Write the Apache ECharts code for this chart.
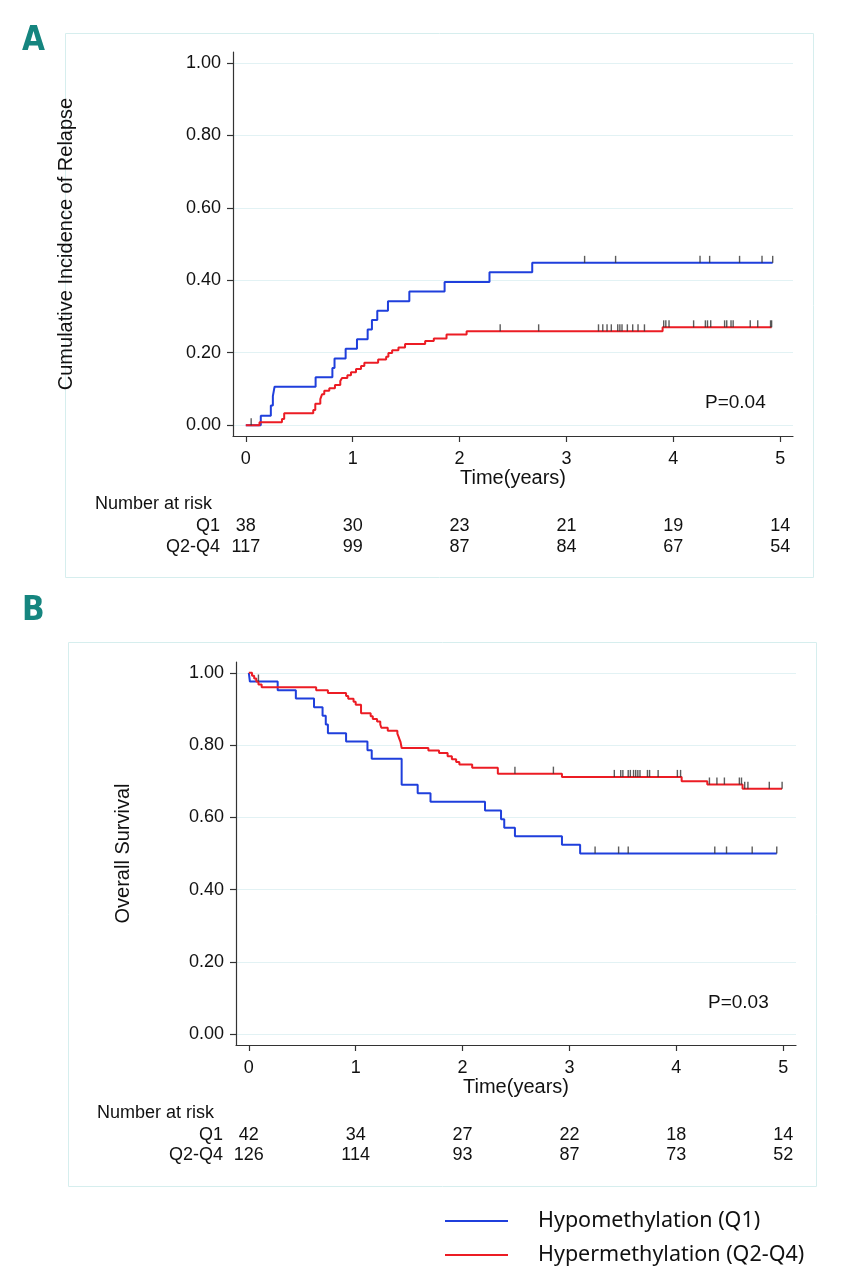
<!DOCTYPE html>
<html><head><meta charset="utf-8">
<script src="https://cdn.jsdelivr.net/npm/echarts@6/dist/echarts.min.js"></script>
<style>html,body{margin:0;padding:0;background:#fff}#c{width:855px;height:1280px}</style>
</head><body><div id="c"></div>
<script>
// ---------- data ----------
const xTicks = [0, 1, 2, 3, 4, 5];
const yTicks = [0, 0.2, 0.4, 0.6, 0.8, 1.0];

// Panel A: cumulative incidence of relapse (step curves: event time, value after event)
const A_Q1_t = [0, 0.14, 0.234, 0.253, 0.269, 0.653, 0.81, 0.83, 0.934, 1.04, 1.14, 1.18, 1.23, 1.33, 1.53, 1.86, 2.28, 2.68, 4.93];
const A_Q1_v = [0, 0.026, 0.054, 0.080, 0.106, 0.132, 0.158, 0.184, 0.211, 0.237, 0.264, 0.290, 0.316, 0.342, 0.369, 0.395, 0.422, 0.448, 0.448];
const A_Q24_t = [0, 0.128, 0.338, 0.359, 0.631, 0.650, 0.697, 0.713, 0.734, 0.781, 0.834, 0.884, 0.900, 0.950, 0.984, 1.031, 1.078, 1.109, 1.238, 1.313, 1.334, 1.369, 1.428, 1.490, 1.678, 1.759, 1.878, 2.066, 3.90, 4.92];
const A_Q24_v = [0, 0.008, 0.017, 0.033, 0.042, 0.059, 0.072, 0.085, 0.095, 0.102, 0.111, 0.122, 0.130, 0.138, 0.146, 0.155, 0.163, 0.172, 0.181, 0.189, 0.199, 0.207, 0.214, 0.224, 0.232, 0.239, 0.250, 0.259, 0.270, 0.270];
const A_Q1_cens = [3.17, 3.46, 4.25, 4.34, 4.62, 4.83, 4.93];
const A_Q24_cens = [0.05, 2.38, 2.74, 3.30, 3.34, 3.38, 3.42, 3.48, 3.50, 3.52, 3.57, 3.62, 3.67, 3.73, 3.91, 3.93, 3.96, 4.19, 4.30, 4.32, 4.35, 4.48, 4.50, 4.54, 4.56, 4.72, 4.79, 4.91, 4.92];

// Panel B: overall survival
const B_Q1_t = [0, 0.01, 0.27, 0.44, 0.61, 0.69, 0.72, 0.74, 0.91, 1.11, 1.15, 1.43, 1.58, 1.70, 2.21, 2.36, 2.39, 2.49, 2.93, 3.10, 4.94];
const B_Q1_v = [1, 0.976, 0.952, 0.929, 0.905, 0.881, 0.857, 0.833, 0.810, 0.786, 0.762, 0.690, 0.667, 0.643, 0.619, 0.595, 0.571, 0.548, 0.524, 0.500, 0.500];
const B_Q24_t = [0, 0.03, 0.05, 0.07, 0.09, 0.12, 0.63, 0.74, 0.91, 0.93, 0.98, 1.00, 1.05, 1.14, 1.16, 1.20, 1.23, 1.24, 1.30, 1.39, 1.40, 1.41, 1.42, 1.43, 1.68, 1.78, 1.86, 1.90, 1.94, 1.97, 2.09, 2.33, 2.93, 4.05, 4.29, 4.62, 4.99];
const B_Q24_v = [1, 0.992, 0.984, 0.976, 0.968, 0.960, 0.952, 0.944, 0.936, 0.928, 0.920, 0.912, 0.888, 0.880, 0.872, 0.865, 0.857, 0.848, 0.840, 0.832, 0.824, 0.816, 0.808, 0.792, 0.785, 0.778, 0.769, 0.761, 0.753, 0.746, 0.737, 0.721, 0.712, 0.700, 0.691, 0.679, 0.679];
const B_Q1_cens = [0.09, 3.24, 3.46, 3.55, 4.36, 4.47, 4.71, 4.94];
const B_Q24_cens = [2.49, 2.85, 3.42, 3.48, 3.50, 3.55, 3.57, 3.60, 3.62, 3.64, 3.66, 3.73, 3.75, 3.83, 4.01, 4.04, 4.31, 4.38, 4.45, 4.59, 4.61, 4.64, 4.67, 4.87, 4.99];

// Number at risk
const A_risk_Q1 = [38, 30, 23, 21, 19, 14];
const A_risk_Q24 = [117, 99, 87, 84, 67, 54];
const B_risk_Q1 = [42, 34, 27, 22, 18, 14];
const B_risk_Q24 = [126, 114, 93, 87, 73, 52];

const NAME_Q1 = 'Hypomethylation (Q1)';
const NAME_Q24 = 'Hypermethylation (Q2-Q4)';

// ---------- helpers ----------
const BLUE = '#1f3fdc', RED = '#ec1c24';
const FONT = "'Liberation Sans', Arial, sans-serif";
const pairs = (ts, vs) => ts.map((t, i) => [t, vs[i]]);
function stepAt(ts, vs, t) {
  let v = vs[0];
  for (let i = 0; i < ts.length; i++) { if (ts[i] <= t + 1e-9) v = vs[i]; }
  return v;
}
const censPts = (ts, vs, cs) => cs.map(c => [c, stepAt(ts, vs, c)]);

function mainX(grid) {
  return {
    type: 'value', gridIndex: grid, min: -0.12, max: 5.12,
    axisLine: { show: true, onZero: false, lineStyle: { color: '#333', width: 1.2 } },
    axisTick: { show: true, customValues: xTicks, length: 6, lineStyle: { color: '#333', width: 1.2 } },
    axisLabel: { customValues: xTicks, margin: 14, fontSize: 18, color: '#111', fontFamily: FONT },
    splitLine: { show: false },
    name: 'Time(years)', nameLocation: 'middle', nameGap: 32, nameMoveOverlap: false,
    nameTextStyle: { fontSize: 20, color: '#111', fontFamily: FONT }
  };
}
function riskX(grid, offset, arr) {
  return {
    type: 'value', gridIndex: grid, position: 'bottom', offset: offset, min: -0.12, max: 5.12,
    axisLine: { show: false, onZero: false }, axisTick: { show: false }, splitLine: { show: false },
    axisLabel: { customValues: xTicks, margin: 0, fontSize: 18, color: '#111', fontFamily: FONT,
      formatter: v => String(arr[Math.round(v)]) }
  };
}
function mainY(grid, name, gap) {
  return {
    type: 'value', gridIndex: grid, min: -0.03, max: 1.03,
    axisLine: { show: true, onZero: false, lineStyle: { color: '#333', width: 1.2 } },
    axisTick: { show: true, customValues: yTicks, length: 6, lineStyle: { color: '#333', width: 1.2 } },
    axisLabel: { customValues: yTicks, margin: 12, fontSize: 18, color: '#111', fontFamily: FONT,
      formatter: v => v.toFixed(2) },
    splitLine: { show: true, lineStyle: { color: '#e2f2f4', width: 1 } },
    name: name, nameLocation: 'middle', nameGap: gap, nameRotate: 90, nameMoveOverlap: false,
    nameTextStyle: { fontSize: 20, color: '#111', fontFamily: FONT }
  };
}
function curve(name, color, xi, yi, ts, vs) {
  return { type: 'line', name: name, xAxisIndex: xi, yAxisIndex: yi, step: 'end', showSymbol: false,
    symbol: 'none', data: pairs(ts, vs), lineStyle: { color: color, width: 2 }, itemStyle: { color: color },
    silent: true, z: 3 };
}
function cens(xi, yi, ts, vs, cs) {
  return { type: 'scatter', name: 'censor', xAxisIndex: xi, yAxisIndex: yi, data: censPts(ts, vs, cs),
    symbol: 'rect', symbolSize: [1.4, 7], symbolOffset: [0, '-50%'], itemStyle: { color: '#333' },
    silent: true, z: 4 };
}
function txt(x, y, text, opt) {
  return Object.assign({ type: 'text', x: x, y: y, silent: true,
    style: Object.assign({ text: text, fontFamily: FONT, fontSize: 18, fill: '#111', verticalAlign: 'middle', align: 'left' }, opt || {}) });
}

const chart = echarts.init(document.getElementById('c'), null, { renderer: 'canvas' });
chart.setOption({
  animation: false,
  backgroundColor: '#fff',
  grid: [
    { left: 233, top: 52, width: 560, height: 384 },
    { left: 236, top: 662, width: 560, height: 383 }
  ],
  xAxis: [
    mainX(0), riskX(0, 81, A_risk_Q1), riskX(0, 102, A_risk_Q24),
    mainX(1), riskX(1, 81, B_risk_Q1), riskX(1, 101, B_risk_Q24)
  ],
  yAxis: [
    mainY(0, 'Cumulative Incidence of Relapse', 157),
    mainY(1, 'Overall Survival', 103)
  ],
  legend: {
    orient: 'vertical', left: 440, top: 1205, itemWidth: 63, itemHeight: 2, icon: 'rect', itemGap: 12,
    selectedMode: false, data: [NAME_Q1, NAME_Q24],
    textStyle: { fontFamily: "'Noto Sans', sans-serif", fontSize: 21.5, color: '#111', padding: [0, 0, 0, 25] }
  },
  series: [
    curve(NAME_Q1, BLUE, 0, 0, A_Q1_t, A_Q1_v),
    curve(NAME_Q24, RED, 0, 0, A_Q24_t, A_Q24_v),
    cens(0, 0, A_Q1_t, A_Q1_v, A_Q1_cens),
    cens(0, 0, A_Q24_t, A_Q24_v, A_Q24_cens),
    curve(NAME_Q1, BLUE, 3, 1, B_Q1_t, B_Q1_v),
    curve(NAME_Q24, RED, 3, 1, B_Q24_t, B_Q24_v),
    cens(3, 1, B_Q1_t, B_Q1_v, B_Q1_cens),
    cens(3, 1, B_Q24_t, B_Q24_v, B_Q24_cens)
  ],
  graphic: [
    { type: 'rect', silent: true, shape: { x: 65.5, y: 33.5, width: 748, height: 544 }, style: { fill: 'none', stroke: '#d6eeee', lineWidth: 1 } },
    { type: 'rect', silent: true, shape: { x: 68.5, y: 642.5, width: 748, height: 544 }, style: { fill: 'none', stroke: '#d6eeee', lineWidth: 1 } },
    txt(22, 41, 'A', { fontFamily: "'DejaVu Sans Condensed', 'DejaVu Sans', sans-serif", fontWeight: 'bold', fontSize: 33, fill: '#15857f' }),
    txt(22, 611, 'B', { fontFamily: "'DejaVu Sans Condensed', 'DejaVu Sans', sans-serif", fontWeight: 'bold', fontSize: 33, fill: '#15857f' }),
    txt(705, 403, 'P=0.04', { fontSize: 19 }),
    txt(708, 1003, 'P=0.03', { fontSize: 19 }),
    txt(95, 504, 'Number at risk'),
    txt(220, 526, 'Q1', { align: 'right' }),
    txt(220, 547, 'Q2-Q4', { align: 'right' }),
    txt(97, 1113, 'Number at risk'),
    txt(223, 1135, 'Q1', { align: 'right' }),
    txt(223, 1155, 'Q2-Q4', { align: 'right' })
  ]
});
</script></body></html>
